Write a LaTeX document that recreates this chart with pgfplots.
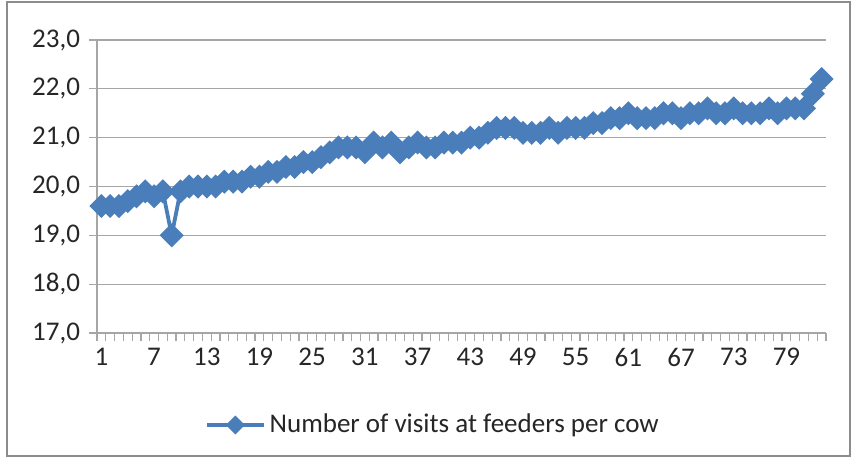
\documentclass[border=0pt]{standalone}
\usepackage{fontspec}
\setmainfont{Carlito}
\usepackage{pgfplots}
\usepackage{pgfplotstable}
\pgfplotsset{compat=1.18}

\definecolor{serblue}{HTML}{4A7EBB}
\definecolor{axgray}{HTML}{A6A6A6}
\definecolor{boxgray}{HTML}{8C8C8C}

% day, visits per cow
\pgfplotstableread{
day value
1 19.6
2 19.6
3 19.6
4 19.7
5 19.8
6 19.9
7 19.8
8 19.9
9 19.0
10 19.9
11 20.0
12 20.0
13 20.0
14 20.0
15 20.1
16 20.1
17 20.1
18 20.2
19 20.2
20 20.3
21 20.3
22 20.4
23 20.4
24 20.5
25 20.5
26 20.6
27 20.7
28 20.8
29 20.8
30 20.8
31 20.7
32 20.9
33 20.8
34 20.9
35 20.7
36 20.8
37 20.9
38 20.8
39 20.8
40 20.9
41 20.9
42 20.9
43 21.0
44 21.0
45 21.1
46 21.2
47 21.2
48 21.2
49 21.1
50 21.1
51 21.1
52 21.2
53 21.1
54 21.2
55 21.2
56 21.2
57 21.3
58 21.3
59 21.4
60 21.4
61 21.5
62 21.4
63 21.4
64 21.4
65 21.5
66 21.5
67 21.4
68 21.5
69 21.5
70 21.6
71 21.5
72 21.5
73 21.6
74 21.5
75 21.5
76 21.5
77 21.6
78 21.5
79 21.6
80 21.6
81 21.6
82 21.9
83 22.2
}\visits

\begin{document}
\begin{tikzpicture}
% bounding box and outer frame (1px = 0.5pt, axis origin at the plot's lower left)
\path[use as bounding box] (-48.5pt,-64pt) rectangle (379.5pt,166.5pt);
\draw[boxgray, line width=0.8pt] (-45pt,-61.5pt) rectangle (376.5pt,165.5pt);

\begin{axis}[
    at={(0pt,0pt)}, anchor=south west,
    scale only axis,
    width=364.5pt, height=146.5pt,
    xmin=0.5, xmax=83.5,
    ymin=17, ymax=23,
    ytick={17,18,...,23},
    xtick={1,7,...,79},
    minor xtick={0.5,1.5,...,83.5},
    major x tick style={draw=none},
    axis x line*=bottom,
    axis y line*=left,
    axis line style={axgray, line width=0.6pt},
    ymajorgrids=true,
    grid style={axgray, line width=0.6pt},
    tick align=outside,
    tick style={axgray, line width=0.6pt},
    major tick length=4pt,
    minor tick length=4pt,
    /pgf/number format/assume math mode=true,
    ticklabel style={font=\fontsize{13.5}{15}\selectfont, text=black!85},
    y tick label style={xshift=-1pt, /pgf/number format/.cd, fixed, fixed zerofill, precision=1, use comma},
    legend style={at={(0.462,-0.314)}, anchor=center, draw=none,
        font=\fontsize{13.5}{15}\selectfont, text=black!85},
    legend image code/.code={
        \draw[mark repeat=2, mark phase=2, mark size=2.4pt]
        plot coordinates {(0cm,0cm) (0.5cm,0cm) (1cm,0cm)};},
]
\addplot[serblue, line width=1.9pt, mark=square*,
    mark size=3.3pt, mark options={rotate=45, solid, fill=serblue}]
    table[x=day, y=value] {\visits};
\addlegendentry{Number of visits at feeders per cow}
\end{axis}
\end{tikzpicture}
\end{document}
